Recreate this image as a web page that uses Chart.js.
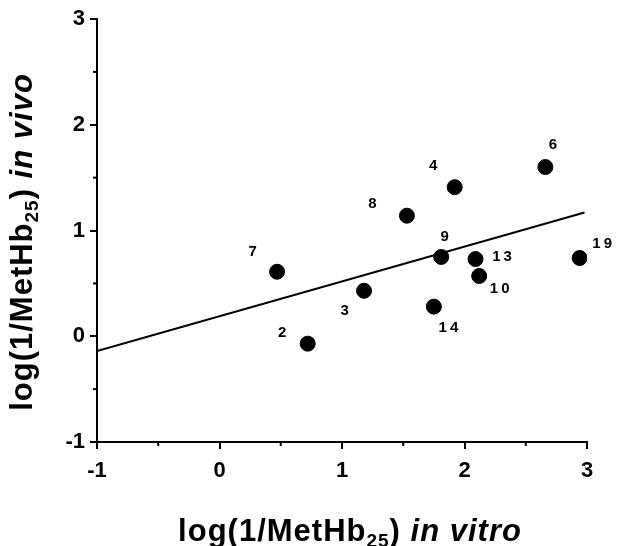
<!DOCTYPE html>
<html>
<head>
<meta charset="utf-8">
<script src="https://cdn.jsdelivr.net/npm/chart.js@4"></script>
<style>
  body { margin: 0; background: #fff; }
  #wrap { width: 618px; height: 546px; }
</style>
</head>
<body>
<div id="wrap"><canvas id="plot" width="618" height="546"></canvas></div>
<script>
// compound numbers and their log(1/MetHb25) values
const compounds = ["2", "3", "4", "6", "7", "8", "9", "10", "13", "14", "19"];
const inVitro = [0.72, 1.18, 1.92, 2.66, 0.47, 1.53, 1.81, 2.12, 2.09, 1.75, 2.94];
const inVivo = [-0.07, 0.43, 1.41, 1.60, 0.61, 1.14, 0.75, 0.57, 0.73, 0.28, 0.74];

// regression line end points
const fitX = [-1, 2.98];
const fitY = [-0.14, 1.17];

const xTicks = [-1, 0, 1, 2, 3];
const yTicks = [-1, 0, 1, 2, 3];
const minorTicks = [-0.5, 0.5, 1.5, 2.5];

// where each number sits relative to its dot (px)
const labelOffsets = {
  "2": [-24, -11], "3": [-18, 20], "4": [-20, -21], "6": [9, -22],
  "7": [-23, -20], "8": [-33, -12], "9": [5, -20], "10": [22, 13],
  "13": [28, -2], "14": [16, 21], "19": [24, -14]
};

const FONT = "'Liberation Sans', Arial, sans-serif";

function drawRich(ctx, parts, cx, baseY) {
  let total = 0;
  parts.forEach(p => { ctx.font = p.font; total += ctx.measureText(p.text).width; });
  let x = cx - total / 2;
  parts.forEach(p => {
    ctx.font = p.font;
    ctx.fillText(p.text, x, baseY + (p.dy || 0));
    x += ctx.measureText(p.text).width;
  });
}

function titleParts(tail) {
  return [
    { text: "log(1/MetHb", font: "bold 31px " + FONT },
    { text: "25", font: "bold 19px " + FONT, dy: 6 },
    { text: ") ", font: "bold 31px " + FONT },
    { text: tail, font: "italic bold 31px " + FONT }
  ];
}

const extras = {
  id: "extras",
  afterDraw(chart) {
    const { ctx, scales: { x, y } } = chart;
    ctx.save();
    ctx.strokeStyle = "#000";
    ctx.lineWidth = 2;
    minorTicks.forEach(v => {
      const px = x.getPixelForValue(v);
      ctx.beginPath();
      ctx.moveTo(px, y.bottom);
      ctx.lineTo(px, y.bottom + 4);
      ctx.stroke();
      const py = y.getPixelForValue(v);
      ctx.beginPath();
      ctx.moveTo(x.left, py);
      ctx.lineTo(x.left - 4, py);
      ctx.stroke();
    });

    ctx.fillStyle = "#000";
    ctx.font = "bold 15px " + FONT;
    ctx.textAlign = "center";
    ctx.textBaseline = "middle";
    ctx.letterSpacing = "3px";
    compounds.forEach((c, i) => {
      const off = labelOffsets[c];
      ctx.fillText(c, x.getPixelForValue(inVitro[i]) + off[0], y.getPixelForValue(inVivo[i]) + off[1]);
    });

    ctx.textAlign = "left";
    ctx.textBaseline = "alphabetic";
    ctx.letterSpacing = "1px";
    drawRich(ctx, titleParts("in vitro"), 350, 541);

    ctx.translate(32, 242);
    ctx.rotate(-Math.PI / 2);
    drawRich(ctx, titleParts("in vivo"), 0, 0);
    ctx.restore();
  }
};

const tickFont = { family: FONT, size: 22, weight: "bold" };

new Chart(document.getElementById("plot"), {
  type: "scatter",
  data: {
    datasets: [
      {
        label: "compounds",
        data: inVitro.map((v, i) => ({ x: v, y: inVivo[i] })),
        backgroundColor: "#000",
        borderColor: "#000",
        pointRadius: 7.5,
        pointHoverRadius: 7.5
      },
      {
        label: "fit",
        type: "line",
        data: fitX.map((v, i) => ({ x: v, y: fitY[i] })),
        borderColor: "#000",
        borderWidth: 2,
        pointRadius: 0,
        fill: false
      }
    ]
  },
  options: {
    responsive: false,
    animation: false,
    layout: { padding: { top: 19, right: 31, left: 0, bottom: 0 } },
    plugins: { legend: { display: false }, tooltip: { enabled: false } },
    scales: {
      x: {
        type: "linear",
        min: -1,
        max: 3,
        afterBuildTicks: s => { s.ticks = xTicks.map(v => ({ value: v })); },
        afterFit: s => { s.height = 104; },
        ticks: { color: "#000", font: tickFont, padding: 9 },
        grid: { drawOnChartArea: false, color: "#000", lineWidth: 2, tickLength: 7 },
        border: { color: "#000", width: 2 }
      },
      y: {
        type: "linear",
        min: -1,
        max: 3,
        afterBuildTicks: s => { s.ticks = yTicks.map(v => ({ value: v })); },
        afterFit: s => { s.width = 97; },
        ticks: { color: "#000", font: tickFont, padding: 5 },
        grid: { drawOnChartArea: false, color: "#000", lineWidth: 2, tickLength: 7 },
        border: { color: "#000", width: 2 }
      }
    }
  },
  plugins: [extras]
});
</script>
</body>
</html>
